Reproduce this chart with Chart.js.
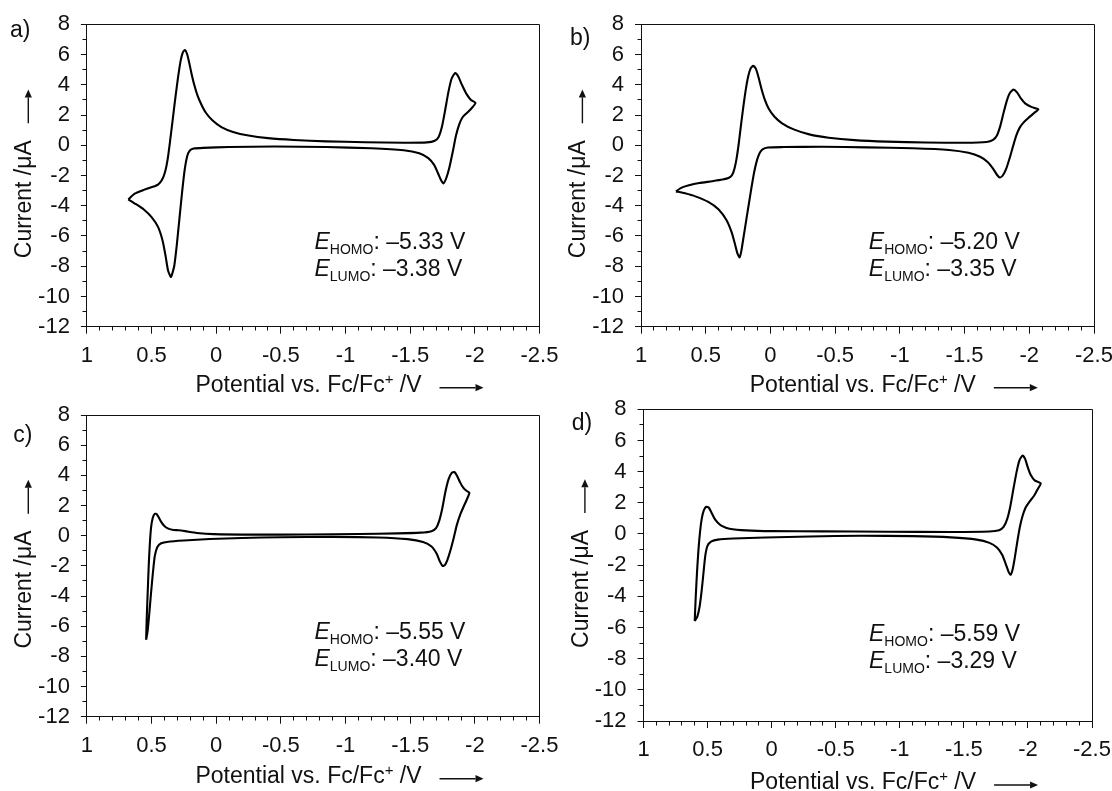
<!DOCTYPE html>
<html>
<head>
<meta charset="utf-8">
<title>Cyclic voltammograms</title>
<script src="https://cdn.jsdelivr.net/npm/chart.js@4.4.1/dist/chart.umd.min.js"></script>
<style>
  html, body { margin: 0; padding: 0; background: #fff; }
  #wrap { position: relative; width: 1112px; height: 791px; overflow: hidden; background: #fff; }
  #wrap canvas { position: absolute; }
</style>
</head>
<body>
<div id="wrap">
  <canvas id="pa"></canvas>
  <canvas id="pb"></canvas>
  <canvas id="pc"></canvas>
  <canvas id="pd"></canvas>
</div>
<script>
// ---- axis ticks ----
const xTicks = [1, 0.5, 0, -0.5, -1, -1.5, -2, -2.5];
const yTicks = [8, 6, 4, 2, 0, -2, -4, -6, -8, -10, -12];

// ---- panel labels and frontier orbital energies (V) ----
const panelLabels = ['a)', 'b)', 'c)', 'd)'];
const eHomo = [-5.33, -5.20, -5.55, -5.59];
const eLumo = [-3.38, -3.35, -3.40, -3.29];

// ---- cyclic voltammograms: [potential vs. Fc/Fc+ (V), current (µA)], closed loops ----
const cvA = [[0.68,-3.58],[0.63,-3.2],[0.56,-2.95],[0.49,-2.75],[0.45,-2.6],[0.42,-2.3],[0.395,-1.75],[0.375,-0.9],[0.355,0.4],[0.335,1.8],[0.315,3.2],[0.295,4.5],[0.275,5.6],[0.258,6.15],[0.242,6.3],[0.226,6.05],[0.21,5.5],[0.19,4.7],[0.17,4.0],[0.145,3.3],[0.115,2.7],[0.08,2.15],[0.03,1.65],[-0.04,1.2],[-0.13,0.88],[-0.25,0.64],[-0.4,0.47],[-0.6,0.35],[-0.85,0.26],[-1.15,0.2],[-1.45,0.17],[-1.63,0.19],[-1.69,0.3],[-1.72,0.55],[-1.745,1.2],[-1.77,2.3],[-1.795,3.5],[-1.82,4.4],[-1.848,4.78],[-1.872,4.55],[-1.9,4.0],[-1.935,3.4],[-1.97,3.0],[-2.005,2.8],[-1.975,2.45],[-1.94,2.15],[-1.905,1.85],[-1.878,1.35],[-1.853,0.6],[-1.83,-0.4],[-1.805,-1.4],[-1.78,-2.15],[-1.758,-2.52],[-1.738,-2.3],[-1.715,-1.85],[-1.685,-1.3],[-1.64,-0.85],[-1.57,-0.53],[-1.45,-0.33],[-1.2,-0.2],[-0.85,-0.12],[-0.45,-0.08],[-0.1,-0.12],[0.1,-0.17],[0.175,-0.22],[0.205,-0.35],[0.225,-0.75],[0.245,-1.7],[0.265,-3.2],[0.285,-4.9],[0.305,-6.6],[0.325,-8.0],[0.35,-8.7],[0.372,-8.3],[0.392,-7.3],[0.415,-6.3],[0.45,-5.4],[0.5,-4.75],[0.56,-4.25],[0.62,-3.9],[0.68,-3.58]];

const cvB = [[0.73,-3.05],[0.69,-2.82],[0.63,-2.65],[0.55,-2.5],[0.45,-2.38],[0.37,-2.27],[0.32,-2.15],[0.295,-1.95],[0.278,-1.55],[0.262,-0.9],[0.245,0.1],[0.228,1.3],[0.21,2.5],[0.192,3.6],[0.172,4.55],[0.152,5.1],[0.132,5.25],[0.112,5.05],[0.092,4.5],[0.07,3.75],[0.045,3.05],[0.015,2.45],[-0.03,1.9],[-0.09,1.45],[-0.18,1.05],[-0.3,0.72],[-0.45,0.5],[-0.65,0.34],[-0.9,0.24],[-1.2,0.18],[-1.5,0.17],[-1.67,0.22],[-1.72,0.36],[-1.75,0.65],[-1.775,1.25],[-1.8,2.1],[-1.825,2.9],[-1.85,3.45],[-1.878,3.68],[-1.905,3.5],[-1.935,3.1],[-1.97,2.75],[-2.02,2.52],[-2.07,2.38],[-2.035,2.12],[-1.995,1.82],[-1.955,1.5],[-1.925,1.15],[-1.9,0.65],[-1.875,-0.05],[-1.85,-0.8],[-1.822,-1.55],[-1.795,-2.0],[-1.772,-2.13],[-1.75,-1.95],[-1.72,-1.55],[-1.68,-1.12],[-1.62,-0.76],[-1.53,-0.5],[-1.38,-0.31],[-1.1,-0.2],[-0.75,-0.14],[-0.4,-0.1],[-0.1,-0.12],[0.02,-0.15],[0.065,-0.3],[0.095,-0.75],[0.125,-1.75],[0.155,-3.25],[0.185,-4.85],[0.21,-6.2],[0.225,-7.0],[0.238,-7.42],[0.255,-7.15],[0.275,-6.5],[0.3,-5.75],[0.34,-4.95],[0.4,-4.25],[0.48,-3.75],[0.58,-3.38],[0.66,-3.18],[0.73,-3.05]];

const cvC = [[0.542,-6.9],[0.538,-5.6],[0.53,-3.8],[0.522,-2.0],[0.513,-0.5],[0.503,0.6],[0.49,1.2],[0.475,1.45],[0.46,1.42],[0.445,1.22],[0.428,0.95],[0.405,0.68],[0.375,0.48],[0.34,0.39],[0.29,0.36],[0.24,0.3],[0.15,0.18],[0.02,0.1],[-0.3,0.07],[-0.7,0.08],[-1.1,0.11],[-1.4,0.15],[-1.58,0.2],[-1.665,0.3],[-1.7,0.5],[-1.725,1.0],[-1.748,1.8],[-1.772,2.9],[-1.797,3.75],[-1.82,4.15],[-1.842,4.22],[-1.862,3.98],[-1.885,3.55],[-1.91,3.18],[-1.935,2.98],[-1.958,2.85],[-1.938,2.4],[-1.912,1.9],[-1.887,1.4],[-1.862,0.75],[-1.838,-0.1],[-1.812,-0.95],[-1.788,-1.6],[-1.768,-1.95],[-1.75,-2.0],[-1.73,-1.72],[-1.705,-1.2],[-1.665,-0.72],[-1.6,-0.42],[-1.48,-0.23],[-1.25,-0.12],[-0.9,-0.08],[-0.5,-0.1],[-0.2,-0.15],[0.05,-0.22],[0.25,-0.32],[0.37,-0.4],[0.425,-0.5],[0.455,-0.75],[0.475,-1.35],[0.49,-2.5],[0.505,-3.9],[0.518,-5.2],[0.53,-6.3],[0.542,-6.9]];

const cvD = [[0.6,-5.58],[0.597,-4.9],[0.591,-3.8],[0.582,-2.4],[0.571,-1.0],[0.558,0.2],[0.545,1.0],[0.53,1.5],[0.51,1.75],[0.49,1.68],[0.47,1.38],[0.448,1.02],[0.42,0.72],[0.385,0.5],[0.33,0.34],[0.2,0.23],[0.0,0.18],[-0.4,0.17],[-0.9,0.14],[-1.4,0.13],[-1.7,0.16],[-1.775,0.24],[-1.81,0.45],[-1.838,0.95],[-1.862,1.75],[-1.887,2.9],[-1.912,4.0],[-1.935,4.75],[-1.958,5.03],[-1.978,4.82],[-1.998,4.3],[-2.022,3.78],[-2.055,3.42],[-2.1,3.25],[-2.078,2.9],[-2.048,2.45],[-2.01,2.05],[-1.982,1.7],[-1.958,1.15],[-1.937,0.45],[-1.917,-0.5],[-1.897,-1.55],[-1.88,-2.3],[-1.865,-2.62],[-1.85,-2.45],[-1.83,-2.0],[-1.8,-1.35],[-1.76,-0.88],[-1.7,-0.57],[-1.6,-0.36],[-1.4,-0.22],[-1.1,-0.14],[-0.7,-0.11],[-0.3,-0.16],[0.05,-0.23],[0.3,-0.29],[0.42,-0.36],[0.47,-0.48],[0.5,-0.75],[0.518,-1.4],[0.532,-2.5],[0.547,-3.7],[0.563,-4.7],[0.58,-5.3],[0.6,-5.58]];

// ---- look ----
const FONT = '"Liberation Sans", Arial, Helvetica, sans-serif';
const INK = '#111';
const TICK_SIZE = 22;
const TITLE_SIZE = 23;
const NOTE_SIZE = 23;
const Y_BOX = 60;   // fixed width of the y-axis box
const X_BOX = 60;   // fixed height of the x-axis box

// canvas placement on the page and plot-area rectangle (page px)
const panels = [
  { id: 'pa', data: cvA, canvas: { x: 0,   y: 0,   w: 600, h: 420 }, area: { l: 86.9,  r: 539.5, t: 24.3,  b: 326.7 }, letter: { dx: -77,   dy: 12.7 }, titleDy: 0 },
  { id: 'pb', data: cvB, canvas: { x: 540, y: 0,   w: 600, h: 420 }, area: { l: 641,   r: 1094,  t: 24.3,  b: 326.7 }, letter: { dx: -71,   dy: 20.7 }, titleDy: 0 },
  { id: 'pc', data: cvC, canvas: { x: 0,   y: 385, w: 600, h: 420 }, area: { l: 86.9,  r: 539.5, t: 415,   b: 716.7 }, letter: { dx: -73.6, dy: 26.7 }, titleDy: 1 },
  { id: 'pd', data: cvD, canvas: { x: 540, y: 385, w: 600, h: 420 }, area: { l: 643.5, r: 1092,  t: 409.3, b: 721   }, letter: { dx: -71.8, dy: 20.7 }, titleDy: 3 }
];

// where the energy notes sit, in data units
const NOTE_X = -0.76, NOTE_Y1 = -6.85, NOTE_Y2 = -8.63;

const fmtE = v => '\u2013' + Math.abs(v).toFixed(2) + ' V';
const align1 = p => Math.round(p - 0.5) + 0.5;

function drawRuns(ctx, runs, x, y, anchor) {
  const widths = runs.map(r => { ctx.font = r.font; return ctx.measureText(r.text).width; });
  const total = widths.reduce((s, w) => s + w, 0);
  let cx = anchor === 'center' ? x - total / 2 : x;
  const start = cx;
  runs.forEach((r, i) => { ctx.font = r.font; ctx.fillText(r.text, cx, y + (r.dy || 0)); cx += widths[i]; });
  return { start, end: cx };
}

function arrow(ctx, x1, y1, x2, y2) {
  const ang = Math.atan2(y2 - y1, x2 - x1);
  const hl = 8, hw = 3.6;
  const bx = x2 - hl * Math.cos(ang), by = y2 - hl * Math.sin(ang);
  ctx.beginPath();
  ctx.moveTo(x1, y1);
  ctx.lineTo(bx, by);
  ctx.lineWidth = 1.4;
  ctx.stroke();
  ctx.beginPath();
  ctx.moveTo(x2, y2);
  ctx.lineTo(bx - hw * Math.sin(ang), by + hw * Math.cos(ang));
  ctx.lineTo(bx + hw * Math.sin(ang), by - hw * Math.cos(ang));
  ctx.closePath();
  ctx.fill();
}

// frame, minor ticks, axis titles with arrows, panel letter and energy notes
const decor = {
  id: 'cvDecor',
  afterDraw(chart, args, o) {
    const { ctx, chartArea: a, scales: { x, y } } = chart;
    ctx.save();
    ctx.strokeStyle = INK;
    ctx.fillStyle = INK;
    ctx.lineWidth = 1;

    // closed frame
    const L = align1(a.left), R = align1(a.right), T = align1(a.top), B = align1(a.bottom);
    ctx.beginPath();
    ctx.moveTo(L, T); ctx.lineTo(R, T); ctx.lineTo(R, B);
    ctx.stroke();

    // minor ticks
    ctx.beginPath();
    for (let i = -25; i <= 10; i++) {
      if (i % 5 === 0) continue;
      const px = align1(x.getPixelForValue(i / 10));
      ctx.moveTo(px, B); ctx.lineTo(px, B + 4);
    }
    for (let v = -11; v <= 7; v += 2) {
      const py = align1(y.getPixelForValue(v));
      ctx.moveTo(L - 4, py); ctx.lineTo(L, py);
    }
    ctx.stroke();

    // y title with upward arrow
    const midY = (a.top + a.bottom) / 2;
    ctx.save();
    ctx.translate(a.left - 62, midY + 23.7);
    ctx.rotate(-Math.PI / 2);
    ctx.textAlign = 'center';
    ctx.textBaseline = 'middle';
    ctx.font = TITLE_SIZE + 'px ' + FONT;
    ctx.fillText('Current /\u03bcA', 0, 0);
    ctx.restore();
    arrow(ctx, a.left - 58.6, midY - 52.2, a.left - 58.6, midY - 86);

    // x title with rightward arrow
    ctx.textAlign = 'left';
    ctx.textBaseline = 'alphabetic';
    const base = a.bottom + 65 + o.titleDy;
    const span = drawRuns(ctx, [
      { text: 'Potential vs. Fc/Fc', font: TITLE_SIZE + 'px ' + FONT },
      { text: '+', font: '15px ' + FONT, dy: -8 },
      { text: ' /V', font: TITLE_SIZE + 'px ' + FONT }
    ], (a.left + a.right) / 2 - 4.7, base, 'center');
    arrow(ctx, span.end + 18, base - 4, span.end + 62, base - 4);

    // panel letter
    ctx.font = NOTE_SIZE + 'px ' + FONT;
    ctx.fillText(o.letter, a.left + o.letterDx, a.top + o.letterDy);

    // energy notes
    const nx = x.getPixelForValue(NOTE_X);
    const lines = [['HOMO', o.homo, NOTE_Y1], ['LUMO', o.lumo, NOTE_Y2]];
    lines.forEach(([sub, val, yv]) => {
      drawRuns(ctx, [
        { text: 'E', font: 'italic ' + NOTE_SIZE + 'px ' + FONT },
        { text: sub, font: '14px ' + FONT, dy: 5 },
        { text: ': ' + fmtE(val), font: NOTE_SIZE + 'px ' + FONT }
      ], nx, y.getPixelForValue(yv), 'left');
    });
    ctx.restore();
  }
};

panels.forEach((p, i) => {
  const cv = document.getElementById(p.id);
  cv.width = p.canvas.w; cv.height = p.canvas.h;
  cv.style.left = p.canvas.x + 'px'; cv.style.top = p.canvas.y + 'px';
  cv.style.width = p.canvas.w + 'px'; cv.style.height = p.canvas.h + 'px';
  const l = p.area.l - p.canvas.x, r = p.area.r - p.canvas.x;
  const t = p.area.t - p.canvas.y, b = p.area.b - p.canvas.y;

  new Chart(cv, {
    type: 'scatter',
    data: {
      datasets: [{
        data: p.data.map(([px, py]) => ({ x: px, y: py })),
        showLine: true,
        borderColor: '#000',
        borderWidth: 2.1,
        pointRadius: 0,
        pointHoverRadius: 0,
        tension: 0.2,
        fill: false
      }]
    },
    options: {
      responsive: false,
      animation: false,
      devicePixelRatio: 1,
      events: [],
      layout: { padding: { left: l - Y_BOX, right: p.canvas.w - r, top: t, bottom: p.canvas.h - b - X_BOX } },
      plugins: {
        legend: { display: false },
        tooltip: { enabled: false },
        cvDecor: { letter: panelLabels[i], letterDx: p.letter.dx, letterDy: p.letter.dy, homo: eHomo[i], lumo: eLumo[i], titleDy: p.titleDy }
      },
      scales: {
        x: {
          type: 'linear', min: -2.5, max: 1, reverse: true,
          afterBuildTicks: s => { s.ticks = xTicks.map(v => ({ value: v })); },
          afterFit: s => { s.height = X_BOX; },
          ticks: { autoSkip: false, maxRotation: 0, minRotation: 0, padding: 9, color: INK,
                   font: { family: FONT, size: TICK_SIZE }, callback: v => String(v) },
          grid: { drawOnChartArea: false, drawTicks: true, tickLength: 7, tickColor: INK, tickWidth: 1 },
          border: { display: true, color: INK, width: 1 }
        },
        y: {
          type: 'linear', min: -12, max: 8,
          afterBuildTicks: s => { s.ticks = yTicks.map(v => ({ value: v })); },
          afterFit: s => { s.width = Y_BOX; },
          ticks: { autoSkip: false, padding: 11, color: INK,
                   font: { family: FONT, size: TICK_SIZE }, callback: v => String(v) },
          grid: { drawOnChartArea: false, drawTicks: true, tickLength: 6, tickColor: INK, tickWidth: 1 },
          border: { display: true, color: INK, width: 1 }
        }
      }
    },
    plugins: [decor]
  });
});
</script>
</body>
</html>
